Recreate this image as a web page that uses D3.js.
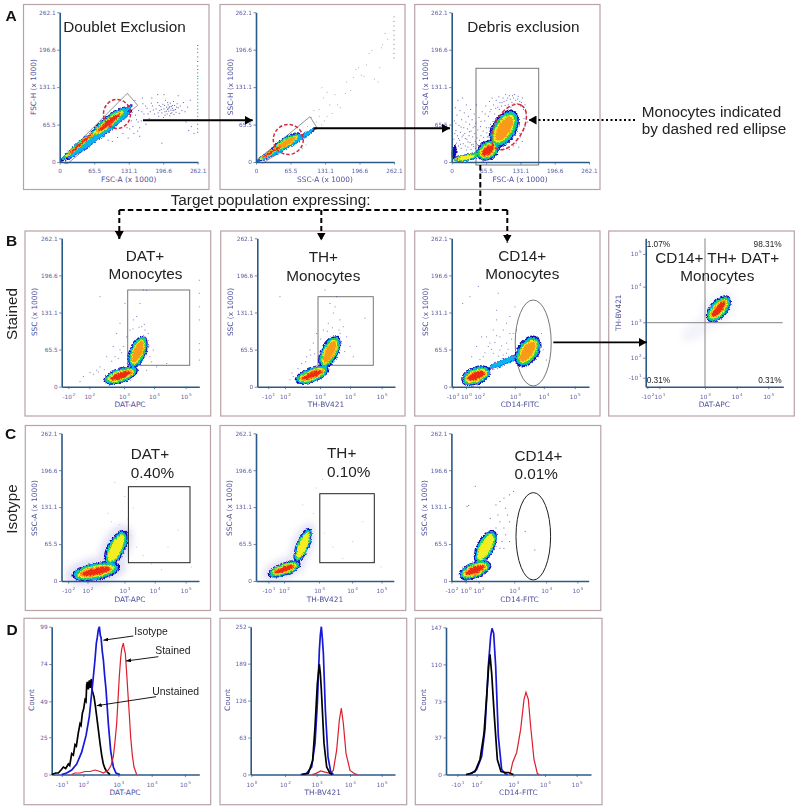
<!DOCTYPE html>
<html><head><meta charset="utf-8">
<style>html,body{margin:0;padding:0;background:#fff}svg{display:block;filter:blur(.3px)}</style>
<script src="https://cdnjs.cloudflare.com/ajax/libs/d3/7.8.5/d3.min.js"></script>
</head><body><svg id="c" width="800" height="810"></svg>
<script>
// ---------- DATA ----------
const linTicks = [0, 65.5, 131.1, 196.6, 262.1];
// x tick channels & labels
const ticksB1 = [20, 83, 187, 277, 372], labsB1 = ["-10^2", "10^2", "10^3", "10^4", "10^5"];
const ticksB2 = [33, 83, 188, 278, 373], labsB2 = ["-10^1", "10^2", "10^3", "10^4", "10^5"];
const ticksB3 = [3, 43, 83, 190, 277, 370], labsB3 = ["-10^2", "10^0", "10^2", "10^3", "10^4", "10^5"];
const ticksB4x = [5, 41, 178, 273, 368], labsB4x = ["-10^2", "10^1", "10^3", "10^4", "10^5"];
const ticksB4y = [27, 87, 193, 300, 398], labsB4y = ["-10^1", "10^2", "10^3", "10^4", "10^5"];
const ticksC1 = [20, 78, 189, 280, 373];
const ticksC2 = [37, 84, 189, 288, 376];
const ticksC3 = [0, 43, 82, 189, 285, 379];
const ticksD1 = [30, 95, 200, 300, 400], labsD1 = ["-10^1", "10^2", "10^3", "10^4", "10^5"];
const ticksD2 = [2, 103, 198, 298, 393], labsD2 = ["10^0", "10^2", "10^3", "10^4", "10^5"];
const ticksD3 = [34, 92, 202, 297, 392], labsD3 = ["-10^1", "10^2", "10^3", "10^4", "10^5"];
const countD1 = [0, 25, 49, 74, 99], countD2 = [0, 63, 126, 189, 252], countD3 = [0, 37, 73, 110, 147];

// density lobes: [x0,y0,x1,y1,widthRatio,topLevel]
const lobesA1 = [[10,3,138,92,.08,1],[1,3,78,62,.12,5],[58,44,128,96,.27,5],[90,62,138,101,.18,1]];
const lobesA2 = [[4,1,110,56,.08,1],[0,1,60,36,.14,5],[28,18,84,50,.32,4],[75,38,112,60,.16,1]];
const lobesA3 = [[3,4,50,13,.3,3],[2,3,16,8,.35,5],[3,4,6,32,.3,0],[50,8,87,34,.8,5],[79,28,120,90,.6,4],[30,10,60,18,.3,2]];
const lobesB1 = [[125,10,228,31,.42,5],[208,34,247,90,.5,4]];
const lobesB2 = [[113,10,213,33,.42,5],[192,34,240,90,.5,4]];
const lobesB3 = [[30,10,115,30,.6,5],[110,33,197,55,.2,1],[200,38,256,88,.65,4]];
const lobesB4 = [[186,198,250,270,.55,5],[120,150,190,195,.4,-1]];
const lobesC1 = [[30,9,175,26,.36,5],[136,28,190,90,.45,3]];
const lobesC2 = [[35,11,133,32,.38,5],[119,34,160,94,.35,3]];
const lobesC3 = [[23,9,117,31,.5,5],[76,32,128,90,.48,3]];

// sparse events [x,y]
const dotsA1 = [[172,88],[176,98],[180,84],[183,93],[186,104],[188,80],[190,90],[192,97],[194,86],[196,101],[197,78],[198,93],[200,88],[201,108],[203,96],[204,84],[205,92],[206,100],[207,89],[208,95],[209,81],[210,103],[211,91],[212,97],[213,86],[214,94],[215,90],[216,106],[217,83],[218,99],[220,92],[221,87],[223,102],[225,95],[227,85],[229,98],[232,90],[235,104],[238,88],[243,96],[248,108],[170,76],[166,94],[160,84],[158,102],[155,72],[152,60],[150,90],[148,54],[146,74],[143,108],[141,50],[157,112],[164,66],[175,112],[186,118],[198,118],[225,116],[194,33],[240,70],[245,55],[250,62],[255,50],[152,45],[130,42],[120,50],[110,43],[100,36],[92,38],[85,45],[206,94],[203,89],[209,97],[199,99],[211,85],[205,104],[214,99],[193,92],[200,82],[217,91],[222,96],[189,99],[187,86],[178,91],[174,103],[168,84],[163,98],[156,88],[149,70],[144,82],[139,62],[136,72],[133,58],[128,60]];
const dotsA2 = [[125,130],[135,122],[128,112],[140,100],[150,118],[155,100],[160,95],[170,120],[172,140],[180,125],[185,148],[190,162],[195,165],[200,152],[205,150],[210,170],[215,190],[220,195],[225,145],[232,140],[235,165],[238,200],[240,205],[245,225],[250,215],[110,90],[105,78],[115,70],[120,80],[130,72],[98,62],[90,45],[95,30],[88,24],[100,48],[125,65],[135,80],[120,92],[145,85]];
const dotsA3 = [[4,40],[5,72],[6,25],[7,95],[8,55],[9,33],[10,82],[11,46],[12,108],[13,28],[14,64],[15,38],[16,90],[17,52],[18,24],[19,74],[20,44],[21,112],[22,32],[23,60],[24,86],[25,50],[26,28],[27,70],[28,100],[29,40],[30,58],[31,26],[32,80],[33,46],[34,66],[35,34],[36,92],[37,54],[38,30],[39,74],[40,44],[41,60],[42,27],[43,84],[44,50],[45,36],[46,68],[47,100],[48,42],[49,30],[50,56],[52,78],[53,38],[55,62],[56,46],[58,88],[60,54],[62,36],[63,72],[65,98],[66,60],[68,44],[70,80],[72,106],[74,66],[75,92],[77,112],[78,54],[80,100],[82,84],[85,108],[87,70],[88,96],[90,114],[92,104],[95,98],[98,112],[100,106],[103,118],[105,108],[108,100],[110,116],[112,110],[115,104],[118,112],[120,118],[122,108],[125,102],[127,115],[130,106],[132,98],[135,112],[137,92],[140,100],[142,84],[125,40],[130,50],[135,36],[140,62],[118,28],[110,22],[100,22],[145,70],[128,26],[9,22],[17,31],[6,50],[22,47],[13,41],[31,35],[28,21],[41,31],[18,61],[37,22],[8,68],[34,53],[45,24],[26,41],[52,29],[47,33],[58,32],[61,43],[67,51],[56,71],[44,62],[71,60],[64,84],[79,71],[91,92],[96,104],[107,112],[113,96],[119,102],[126,110],[84,94],[73,88],[102,99],[116,116],[133,104],[138,76],[141,92],[131,44],[123,33],[137,55]];
const dotsB1 = [[115,159],[55,9],[65,18],[85,25],[105,29],[115,35],[135,53],[155,71],[165,94],[175,112],[190,147],[235,147],[245,171],[255,170],[215,118],[225,124],[240,106],[250,100],[260,94],[205,100],[195,88],[185,71],[175,65],[160,53],[275,65],[285,35],[265,53],[255,29],[315,41],[413,188],[413,165],[413,141],[413,118],[413,76],[413,65],[413,47],[180,60],[170,50],[150,45],[128,30],[110,26],[95,22],[262,72],[270,44],[256,62],[248,110],[232,105],[214,102]];
const dotsB2 = [[68,159],[203,171],[238,159],[228,130],[213,112],[198,100],[248,118],[258,106],[268,88],[323,121],[288,53],[278,71],[178,94],[168,77],[158,65],[148,53],[133,41],[108,18],[98,12],[248,94],[233,141],[218,147],[253,77],[160,56],[172,58],[145,44],[122,32],[104,24],[262,62],[245,100],[225,104],[210,98],[190,84]];
const dotsB3 = [[80,177],[55,159],[33,147],[140,165],[135,135],[135,118],[165,112],[175,94],[125,100],[105,88],[110,71],[145,88],[165,77],[185,94],[195,100],[205,77],[145,65],[125,59],[95,53],[165,59],[115,77],[155,100],[90,88],[75,71],[60,53],[175,124],[190,141],[270,94],[275,65],[285,47],[130,78],[150,72],[120,66],[100,60],[170,66],[180,84],[140,54],[85,48],[155,56],[135,90]];
const dotsC1 = [[140,120],[150,105],[175,100],[200,110],[210,80],[225,60],[245,45],[270,30],[320,60],[350,90],[390,25],[300,20],[215,130],[190,150],[225,180],[160,175]];
const dotsC2 = [[140,135],[172,120],[190,105],[205,85],[230,60],[260,40],[290,70],[320,105],[350,35],[180,165],[200,180],[375,25]];
const dotsC3 = [[72,168],[47,132],[52,134],[134,135],[146,141],[158,147],[175,153],[187,159],[163,129],[169,117],[175,105],[146,105],[140,117],[158,94],[163,82],[152,70],[175,70],[134,94],[146,58],[117,111],[158,58],[222,88],[251,55]];
// off-scale events piled on the right edge of FSC-A
const colA1Cyan = [86,92,98,104,110,116,122,128,134,140,146,150];
const colA1Dark = [52,58,66,74,80,156,162,168,176,184,192,198,204];
const colA2Dark = [182,190,198,206,214,222,230,238,246,254];

// histograms [channel,count]
const d1Black = [[0,0],[12,1],[20,1],[28,3],[35,5],[42,4],[50,7],[54,6],[60,14],[65,13],[70,20],[74,19],[80,28],[85,34],[88,33],[92,41],[96,44],[100,50],[103,49],[105,60],[107,62],[110,57],[113,63],[116,58],[119,64],[122,56],[127,52],[131,46],[135,39],[140,30],[145,21],[150,13],[155,7],[160,4],[165,2],[175,0]];
const d1Blue = [[30,0],[45,1],[60,3],[75,7],[90,15],[103,26],[113,39],[118,50],[123,61],[127,70],[130,77],[134,88],[137,92],[140,97],[143,99],[146,93],[148,92],[152,82],[155,77],[159,66],[163,57],[170,34],[177,16],[185,5],[193,1],[205,0]];
const d1Red = [[60,0],[70,1],[85,1],[100,2],[115,2],[130,3],[145,2],[155,1],[170,3],[178,6],[185,12],[190,22],[195,34],[199,50],[203,66],[207,78],[210,84],[215,88],[218,84],[221,81],[225,68],[228,57],[233,40],[237,25],[242,13],[247,5],[255,0]];
const d2Blue = [[150,0],[168,2],[183,13],[193,53],[200,121],[206,212],[209,238],[212,252],[215,232],[218,207],[224,110],[232,30],[240,5],[248,0]];
const d2Black = [[155,0],[173,2],[186,24],[193,81],[200,155],[206,188],[209,172],[212,144],[220,53],[228,13],[238,2],[245,0]];
const d2Red = [[185,0],[196,2],[210,6],[223,4],[238,2],[248,7],[258,42],[266,93],[272,113],[278,87],[286,36],[298,7],[313,1],[320,0]];
const d3Blue = [[65,0],[77,1],[92,5],[107,18],[117,45],[127,108],[134,138],[138,146],[143,141],[149,108],[157,38],[167,5],[177,1],[185,0]];
const d3Black = [[60,0],[72,1],[87,3],[102,15],[114,41],[122,78],[128,108],[132,120],[137,101],[145,58],[154,15],[165,3],[178,2],[187,2],[202,0]];
const d3Red = [[192,0],[200,12],[212,22],[224,45],[234,75],[240,82],[247,75],[254,48],[264,15],[274,1],[280,0]];

// ---------- STYLE ----------
const levelColors = ["#1408b4", "#05b4f0", "#26d24a", "#f2ee22", "#fb9a18", "#ee2c14"];
const levelScale = [1, .88, .76, .62, .5, .37];
const tickCol = "#5e5ea4", axisCol = "#2c5a88", labelCol = "#4f4f9c", frameCol = "#b9a2a6";
const SANS = "'Liberation Sans', Arial, sans-serif", VERD = "'DejaVu Sans', Verdana, sans-serif";

const svg = d3.select("#c");
const defs = svg.append("defs");
const soft = defs.append("filter").attr("id", "soft").attr("x", "-10%").attr("y", "-10%").attr("width", "120%").attr("height", "120%")
  .attr("color-interpolation-filters", "sRGB");
soft.append("feTurbulence").attr("baseFrequency", .3).attr("numOctaves", 2).attr("seed", 3).attr("result", "n");
soft.append("feDisplacementMap").attr("in", "SourceGraphic").attr("in2", "n").attr("scale", 1.6).attr("xChannelSelector", "R").attr("yChannelSelector", "G").attr("result", "d");
soft.append("feGaussianBlur").attr("in", "d").attr("stdDeviation", .4);
defs.append("filter").attr("id", "halo").attr("x", "-30%").attr("y", "-30%").attr("width", "160%").attr("height", "160%")
  .append("feGaussianBlur").attr("stdDeviation", 3);
const mk = (id, w, h) => defs.append("marker").attr("id", id).attr("viewBox", `0 0 ${w} ${h}`).attr("refX", w).attr("refY", h / 2)
  .attr("markerWidth", w).attr("markerHeight", h).attr("markerUnits", "userSpaceOnUse").attr("orient", "auto")
  .append("path").attr("d", `M0,0L${w},${h / 2}L0,${h}Z`).attr("fill", "#000");
mk("big", 8, 9); mk("small", 5, 4);

function frame(x0, y0, x1, y1) {
  svg.append("rect").attr("x", x0).attr("y", y0).attr("width", x1 - x0).attr("height", y1 - y0)
    .attr("fill", "#fff").attr("stroke", frameCol).attr("stroke-width", 1.2);
}
function txt(x, y, s, size, opt = {}) {
  const t = svg.append("text").attr("x", x).attr("y", y).text(s).attr("font-size", size)
    .attr("font-family", opt.font || SANS).attr("fill", opt.fill || "#222")
    .attr("text-anchor", opt.anchor || "start").attr("font-weight", opt.weight || null);
  if (opt.rot) t.attr("transform", `rotate(-90 ${x} ${y})`);
  return t;
}
function arrow(x1, y1, x2, y2, w, head, dash) {
  svg.append("line").attr("x1", x1).attr("y1", y1).attr("x2", x2).attr("y2", y2)
    .attr("stroke", "#000").attr("stroke-width", w).attr("stroke-dasharray", dash || null)
    .attr("marker-end", head ? `url(#${head})` : null);
}
function supTicks(axisG, labels, size) {
  axisG.selectAll(".tick text").each(function (d, i) {
    const el = d3.select(this), [b, e] = labels[i].split("^");
    el.text(null);
    el.append("tspan").text(b);
    el.append("tspan").text(e).attr("dx", .8).attr("dy", -3).attr("font-size", size * .72);
  });
}
function axis(g, sc, side, ticks, labels, yAt, xAt, pad) {
  const a = (side === "b" ? d3.axisBottom(sc) : d3.axisLeft(sc)).tickValues(ticks).tickSize(2.5).tickSizeOuter(0).tickPadding(pad);
  if (!labels) a.tickFormat(d => d);
  const ag = g.append("g").attr("transform", `translate(${xAt},${yAt})`).call(a);
  ag.select(".domain").attr("stroke", axisCol).attr("stroke-width", 1.6);
  ag.selectAll(".tick line").attr("stroke", axisCol).attr("stroke-width", .7);
  ag.selectAll("text").attr("fill", tickCol).attr("font-size", 5.8).attr("font-family", VERD);
  if (labels) supTicks(ag, labels, 5.8);
  return ag;
}
function lobePath(l, x, y, lvl) {
  const ax = x(l[0]), ay = y(l[1]), bx = x(l[2]), by = y(l[3]);
  const f = levelScale[lvl], halo = lvl < 0;
  const ang = Math.atan2(by - ay, bx - ax), maj = Math.hypot(bx - ax, by - ay) / 2;
  const rMaj = halo ? maj * 1.28 : maj * (.35 + .65 * f), rMin = halo ? maj * l[4] * 1.6 : maj * l[4] * f;
  const cx = (ax + bx) / 2, cy = (ay + by) / 2, deg = ang * 180 / Math.PI;
  return { cx, cy, rMaj, rMin, deg };
}
function drawDensity(g, lobes, x, y, halo) {
  const dg = g.append("g");
  const ell = (p, fill, sel) => sel.append("ellipse").attr("cx", 0).attr("cy", 0).attr("rx", p.rMaj).attr("ry", p.rMin)
    .attr("transform", `translate(${p.cx},${p.cy}) rotate(${p.deg})`).attr("fill", fill);
  if (halo) {
    const hg = dg.append("g").attr("filter", "url(#halo)").attr("opacity", halo);
    lobes.forEach(l => ell(lobePath(l, x, y, -1), "#c9c9ec", hg));
  }
  const cg = dg.append("g").attr("filter", "url(#soft)");
  levelColors.forEach((c, lvl) => lobes.forEach(l => { if (l[5] >= lvl) ell(lobePath(l, x, y, lvl), c, cg); }));
}
function drawDots(g, pts, x, y, col, op, s) {
  g.append("g").selectAll("rect").data(pts).join("rect")
    .attr("x", d => x(d[0]) - s / 2).attr("y", d => y(d[1]) - s / 2).attr("width", s).attr("height", s)
    .attr("fill", col).attr("opacity", op);
}
function makeScales(p) {
  const x = d3.scaleLinear().domain(p.xDomain).range([p.l, p.r]);
  const y = d3.scaleLinear().domain(p.yDomain).range([p.b, p.t]);
  return { x, y };
}
function drawAxes(g, p, x, y) {
  axis(g, x, "b", p.xTicks, p.xLabs, p.b, 0, p.xPad);
  axis(g, y, "l", p.yTicks, p.yLabs, 0, p.l, 1.5);
  txt((p.xlx), p.xly, p.xl, 7.4, { font: VERD, fill: labelCol, anchor: "middle" });
  txt(p.ylx, p.yly, p.yl, 7.4, { font: VERD, fill: labelCol, anchor: "middle", rot: true });
}
function gateRect(g, x0, y0, x1, y1, col, w) {
  g.append("rect").attr("x", x0).attr("y", y0).attr("width", x1 - x0).attr("height", y1 - y0)
    .attr("fill", "none").attr("stroke", col).attr("stroke-width", w);
}
function gateEll(g, cx, cy, rx, ry, col, w, rot, dash) {
  g.append("ellipse").attr("rx", rx).attr("ry", ry).attr("transform", `translate(${cx},${cy}) rotate(${rot || 0})`)
    .attr("fill", "none").attr("stroke", col).attr("stroke-width", w).attr("stroke-dasharray", dash || null);
}
function gatePoly(g, pts, col) {
  g.append("path").attr("d", d3.line()(pts) + "Z").attr("fill", "none").attr("stroke", col).attr("stroke-width", .8);
}

const linDom = [0, 262.1];
// ---------- ROW A ----------
const rowA = [
  { f: [23.5, 4.5, 209, 189.5], l: 59.7, r: 197.7, lobes: lobesA1, dots: dotsA1, xl: "FSC-A (x 1000)", yl: "FSC-H (x 1000)", xlx: 128.7, ylx: 35.5, dotCol: "#2a2a96", dotOp: .75 },
  { f: [220, 4.5, 405, 189.5], l: 256, r: 394, lobes: lobesA2, dots: dotsA2, xl: "SSC-A (x 1000)", yl: "SSC-H (x 1000)", xlx: 325, ylx: 232.5, dotCol: "#777799", dotOp: .6 },
  { f: [414.7, 4.5, 600, 189.5], l: 451.7, r: 589, lobes: lobesA3, dots: dotsA3, xl: "FSC-A (x 1000)", yl: "SSC-A (x 1000)", xlx: 520, ylx: 428, dotCol: "#2a2a96", dotOp: .7 }
];
rowA.forEach((p, i) => {
  frame(...p.f);
  Object.assign(p, { t: 12.3, b: 162, xDomain: linDom, yDomain: linDom, xTicks: linTicks, yTicks: linTicks, xPad: 4.5, xly: 181.7, yly: 87 });
  const { x, y } = makeScales(p), g = svg.append("g");
  if (i === 0) gatePoly(g, [[60, 161], [127.3, 93.3], [137.7, 105.3], [67, 164]], "#777");
  if (i === 1) gatePoly(g, [[256, 161], [310, 116.7], [317.3, 128.3], [263, 163]], "#777");
  if (i === 2) gateRect(g, 476, 68.3, 538.7, 165, "#777", 1);
  drawDots(g, p.dots, x, y, p.dotCol, p.dotOp, 1);
  if (i === 0) { drawDots(g, colA1Cyan.map(v => [262.1, v]), x, y, "#27c7b4", 1, 1.2); drawDots(g, colA1Dark.map(v => [262.1, v]), x, y, "#2a2a66", .8, 1); }
  if (i === 1) drawDots(g, colA2Dark.map(v => [262.1, v]), x, y, "#666688", .7, 1.1);
  drawDensity(g, p.lobes, x, y, 0);
  if (i === 0) gateEll(g, 117, 114, 13.5, 14.5, "#d6263c", 1.5, 0, "3.5 2");
  if (i === 1) gateEll(g, 288.3, 139.5, 15, 15, "#d6263c", 1.5, 0, "3.5 2");
  if (i === 2) gateEll(g, 509, 127, 25, 14, "#d6263c", 1.5, -60, "4 2");
  drawAxes(g, p, x, y);
});
// ---------- ROW B ----------
const rowB = [
  { f: [25, 231, 210.7, 416], l: 61.7, r: 199.3, lobes: lobesB1, dots: dotsB1, xTicks: ticksB1, xLabs: labsB1, xl: "DAT-APC", yl: "SSC (x 1000)", xlx: 130, ylx: 37, h: 413 },
  { f: [220.7, 231, 405, 416], l: 257.3, r: 395, lobes: lobesB2, dots: dotsB2, xTicks: ticksB2, xLabs: labsB2, xl: "TH-BV421", yl: "SSC (x 1000)", xlx: 326, ylx: 233, h: 413 },
  { f: [414.7, 231, 600, 416], l: 451.7, r: 589, lobes: lobesB3, dots: dotsB3, xTicks: ticksB3, xLabs: labsB3, xl: "CD14-FITC", yl: "SSC (x 1000)", xlx: 520, ylx: 428, h: 413 }
];
rowB.forEach((p, i) => {
  frame(...p.f);
  Object.assign(p, { t: 238.3, b: 386.7, xDomain: [0, p.h], yDomain: linDom, yTicks: linTicks, xPad: 5.5, xly: 407, yly: 312 });
  const { x, y } = makeScales(p), g = svg.append("g");
  if (i === 0) gateRect(g, 127.7, 290, 189.7, 365.3, "#777", 1);
  if (i === 1) gateRect(g, 318, 296.7, 373.3, 365.3, "#777", 1);
  if (i === 2) gateEll(g, 533.2, 343, 18, 43, "#666", .9, 0);
  drawDots(g, p.dots, x, y, "#2a2a96", .6, 1);
  drawDensity(g, p.lobes, x, y, 0);
  drawAxes(g, p, x, y);
});
// B4
{
  frame(608.7, 231, 794.3, 416);
  const p = { l: 645.7, r: 783.3, t: 238.3, b: 386.7, xDomain: [0, 413], yDomain: [0, 445], xTicks: ticksB4x, xLabs: labsB4x, yTicks: ticksB4y, yLabs: labsB4y, xPad: 5.5, xl: "DAT-APC", yl: "TH-BV421", xlx: 714.3, xly: 407, ylx: 621, yly: 312.7 };
  const { x, y } = makeScales(p), g = svg.append("g");
  drawDensity(g, lobesB4, x, y, .22);
  g.append("line").attr("x1", x(178)).attr("x2", x(178)).attr("y1", 238.3).attr("y2", 386.7).attr("stroke", "#777").attr("stroke-width", .9);
  g.append("line").attr("x1", 645.7).attr("x2", 782.7).attr("y1", 322.7).attr("y2", 322.7).attr("stroke", "#777").attr("stroke-width", .9);
  drawAxes(g, p, x, y);
  txt(646.7, 247.3, "1.07%", 8.3);
  txt(781.7, 247.3, "98.31%", 8.3, { anchor: "end" });
  txt(646.7, 382.7, "0.31%", 8.3);
  txt(781.7, 382.7, "0.31%", 8.3, { anchor: "end" });
}
// ---------- ROW C ----------
const rowC = [
  { f: [25.3, 425.5, 210.5, 610.5], l: 61.5, r: 199, lobes: lobesC1, dots: dotsC1, xTicks: ticksC1, xLabs: labsB1, xl: "DAT-APC", xlx: 130, ylx: 37, halo: .55 },
  { f: [220, 425.5, 405.8, 610.5], l: 256, r: 393.8, lobes: lobesC2, dots: dotsC2, xTicks: ticksC2, xLabs: labsB2, xl: "TH-BV421", xlx: 325, ylx: 231.5, halo: .55 },
  { f: [414.8, 425.5, 600.8, 610.5], l: 451.4, r: 588.7, lobes: lobesC3, dots: dotsC3, xTicks: ticksC3, xLabs: labsB3, xl: "CD14-FITC", xlx: 519.5, ylx: 426.5, halo: 0 }
];
rowC.forEach((p, i) => {
  frame(...p.f);
  Object.assign(p, { t: 433.3, b: 581, xDomain: [0, 413], yDomain: linDom, yTicks: linTicks, xPad: 5.5, xly: 601.7, yly: 508, yl: "SSC-A (x 1000)" });
  const { x, y } = makeScales(p), g = svg.append("g");
  drawDots(g, p.dots, x, y, i === 2 ? "#2a2a96" : "#9a9ac8", i === 2 ? .7 : .6, 1);
  drawDensity(g, p.lobes, x, y, p.halo);
  if (i === 0) gateRect(g, 128.4, 486.7, 190, 562.7, "#222", 1);
  if (i === 1) gateRect(g, 319.8, 493.7, 374.3, 562.7, "#222", 1);
  if (i === 2) gateEll(g, 533.3, 536.3, 17.3, 43.7, "#222", 1, 0);
  drawAxes(g, p, x, y);
});
// ---------- ROW D ----------
const rowD = [
  { f: [24, 618.3, 210.7, 804.7], l: 51.7, r: 199.3, w: 443, t: 626.7, xTicks: ticksD1, xLabs: labsD1, yTicks: countD1, max: 99, xl: "DAT-APC", xlx: 125, ylx: 33.5, s: [d1Black, d1Blue, d1Red] },
  { f: [220, 618.3, 406.7, 804.7], l: 250.7, r: 395, w: 433, t: 626.7, xTicks: ticksD2, xLabs: labsD2, yTicks: countD2, max: 252, xl: "TH-BV421", xlx: 322.7, ylx: 230, s: [d2Red, d2Blue, d2Black] },
  { f: [415.3, 618.3, 602, 804.7], l: 446, r: 591, w: 435, t: 627.3, xTicks: ticksD3, xLabs: labsD3, yTicks: countD3, max: 147, xl: "CD14-FITC", xlx: 518.3, ylx: 425.5, s: [d3Red, d3Blue, d3Black] }
];
const histCol = new Map([[d1Black, "#000"], [d1Blue, "#1818d8"], [d1Red, "#dc1e2c"], [d2Black, "#000"], [d2Blue, "#1818d8"], [d2Red, "#dc1e2c"], [d3Black, "#000"], [d3Blue, "#1818d8"], [d3Red, "#dc1e2c"]]);
rowD.forEach(p => {
  frame(...p.f);
  Object.assign(p, { b: 774.5, xDomain: [0, p.w], yDomain: [0, p.max], xPad: 5.5, xly: 795, yly: 700, yl: "Count" });
  const { x, y } = makeScales(p), g = svg.append("g");
  const ln = d3.line().x(d => x(d[0])).y(d => y(d[1]));
  drawAxes(g, p, x, y);
  g.append("g").selectAll("path").data(p.s).join("path")
    .attr("d", ln).attr("fill", "none").attr("stroke", d => histCol.get(d))
    .attr("stroke-width", d => histCol.get(d) === "#dc1e2c" ? 1.2 : 1.7);
});

// ---------- ANNOTATIONS ----------
txt(5.5, 20.7, "A", 15.5, { weight: "bold", fill: "#111" });
txt(6, 246, "B", 15.5, { weight: "bold", fill: "#111" });
txt(5, 439, "C", 15.5, { weight: "bold", fill: "#111" });
txt(6.5, 635, "D", 15.5, { weight: "bold", fill: "#111" });
txt(16.5, 314, "Stained", 15.3, { rot: true, anchor: "middle" });
txt(16.5, 509, "Isotype", 15.3, { rot: true, anchor: "middle" });
txt(63.3, 32.3, "Doublet Exclusion", 15.3);
txt(467.3, 32.3, "Debris exclusion", 15.3);
txt(641.7, 117, "Monocytes indicated", 15.3);
txt(641.7, 134.3, "by dashed red ellipse", 15.3);
txt(170.7, 205, "Target population expressing:", 15.3);
[[145, 260.7, "DAT+"], [145.5, 279, "Monocytes"], [323.3, 262.3, "TH+"], [323.3, 280.7, "Monocytes"], [522.3, 260.7, "CD14+"], [522.3, 279, "Monocytes"], [717.3, 262.7, "CD14+ TH+ DAT+"], [717.3, 280.7, "Monocytes"]]
  .forEach(d => txt(d[0], d[1], d[2], 15.3, { anchor: "middle" }));
[[130.7, 459, "DAT+"], [130.7, 477.7, "0.40%"], [327, 458, "TH+"], [327, 476.7, "0.10%"], [514.4, 460.7, "CD14+"], [514.4, 479.3, "0.01%"]]
  .forEach(d => txt(d[0], d[1], d[2], 15.3));
txt(134.3, 635, "Isotype", 10.4);
txt(155.3, 654.3, "Stained", 10.4);
txt(152.3, 695, "Unstained", 10.4);
arrow(133.3, 636, 103.3, 640.2, .9, "small");
arrow(158.3, 656.7, 126, 661, .9, "small");
arrow(156, 696.7, 96.7, 705.7, .9, "small");
arrow(143, 120.3, 252.7, 120.3, 2, "big");
arrow(313.3, 128.3, 450, 128.3, 2, "big");
arrow(635, 120, 528.5, 120, 2, "big", "2 2.5");
arrow(553.3, 342.3, 646.7, 342.3, 1.8, "big");
const dash = "5.5 3";
arrow(119.3, 210, 507.3, 210, 2, null, dash);
arrow(480.3, 165, 480.3, 210, 2, null, dash);
arrow(119.3, 210, 119.3, 239, 2, "big", "5 3");
arrow(321.3, 210, 321.3, 240.5, 2, "big", "5 3");
arrow(507.3, 210, 507.3, 242.5, 2, "big", "5 3");
</script></body></html>
